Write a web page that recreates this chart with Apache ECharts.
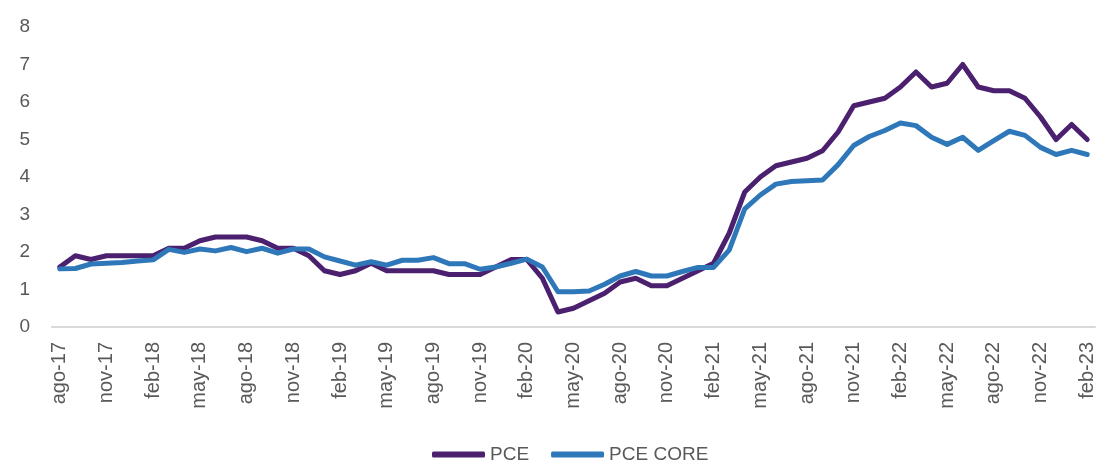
<!DOCTYPE html>
<html>
<head>
<meta charset="utf-8">
<script src="https://cdn.jsdelivr.net/npm/echarts@6/dist/echarts.min.js"></script>
<style>
  html,body{margin:0;padding:0;background:#fff}
  #line{width:1100px;height:460px}
</style>
</head>
<body>
<div id="line"></div>
<script>
// meses ago-17 .. feb-23
const meses=['ene','feb','mar','abr','may','jun','jul','ago','sep','oct','nov','dic']
const months=[]
for(let y=17;y<=23;y++){
  for(let m=0;m<12;m++){
    if(y===17&&m<7) continue
    if(y===23&&m>1) continue
    months.push(meses[m]+'-'+y)
  }
}

const pce=[1.6,1.9,1.8,1.9,1.9,1.9,1.9,2.1,2.1,2.3,2.4,2.4,2.4,2.3,2.1,2.1,1.9,1.5,1.4,1.5,
  1.7,1.5,1.5,1.5,1.5,1.4,1.4,1.4,1.6,1.8,1.8,1.3,0.4,0.5,0.7,0.9,1.2,1.3,1.1,1.1,
  1.3,1.5,1.7,2.5,3.6,4.0,4.3,4.4,4.5,4.7,5.2,5.9,6.0,6.1,6.4,6.8,6.4,6.5,7.0,6.4,
  6.3,6.3,6.1,5.6,5.0,5.4,5.0]

const pceCore=[1.55,1.56,1.68,1.7,1.72,1.76,1.79,2.07,1.99,2.08,2.03,2.12,2.01,2.1,1.97,2.08,2.08,1.87,1.76,1.65,
  1.74,1.65,1.78,1.78,1.85,1.69,1.69,1.54,1.6,1.7,1.81,1.6,0.94,0.94,0.96,1.14,1.36,1.48,1.36,1.36,
  1.48,1.59,1.59,2.05,3.15,3.52,3.81,3.88,3.9,3.92,4.33,4.84,5.08,5.24,5.44,5.37,5.06,4.87,5.06,4.71,
  4.97,5.22,5.11,4.79,4.6,4.71,4.6]

const myChart=echarts.init(document.querySelector('#line'))
const gray='#595959'
const option={
  animation:false,
  color:['#4B216F','#2E78BA'],
  grid:{left:52,right:5,top:27,bottom:133},
  legend:{
    left:432,
    top:445,
    padding:0,
    itemWidth:53,
    itemHeight:6,
    itemGap:22,
    icon:'roundRect',
    textStyle:{color:gray,fontSize:19,fontFamily:'Liberation Sans'},
    data:['PCE','PCE CORE']
  },
  xAxis:{
    type:'category',
    data:months,
    boundaryGap:true,
    axisLine:{lineStyle:{color:'#D9D9D9',width:2}},
    axisTick:{interval:2,length:6,lineStyle:{color:'#D9D9D9',width:2}},
    axisLabel:{interval:2,rotate:90,margin:15,color:gray,fontSize:20,fontFamily:'Liberation Sans'}
  },
  yAxis:{
    type:'value',
    min:0,
    max:8,
    interval:1,
    splitLine:{show:false},
    axisLine:{show:false},
    axisTick:{show:false},
    axisLabel:{margin:22,color:gray,fontSize:19,fontFamily:'Liberation Sans'}
  },
  series:[
    {
      name:'PCE',
      type:'line',
      data:pce,
      symbol:'none',
      lineStyle:{width:5,join:'round',cap:'round'}
    },
    {
      name:'PCE CORE',
      type:'line',
      data:pceCore,
      symbol:'none',
      lineStyle:{width:5,join:'round',cap:'round'}
    }
  ]
}
myChart.setOption(option)
</script>
</body>
</html>
